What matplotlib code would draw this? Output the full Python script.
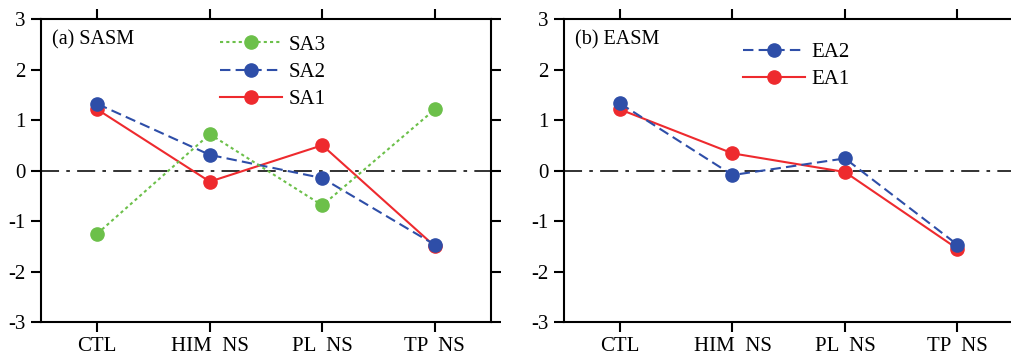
import numpy as np
import matplotlib.pyplot as plt

plt.rcParams['font.family'] = ['Liberation Serif', 'DejaVu Serif']
plt.rcParams['axes.unicode_minus'] = False

cats = ['CTL', 'HIM  NS', 'PL  NS', 'TP  NS']

# (a) SASM
sa1 = [1.21, -0.22, 0.50, -1.50]
sa2 = [1.32, 0.31, -0.15, -1.47]
sa3 = [-1.25, 0.72, -0.69, 1.21]

# (b) EASM
ea1 = [1.21, 0.34, -0.03, -1.55]
ea2 = [1.33, -0.09, 0.24, -1.47]

red = '#ee2a2e'
blue = '#2e4ea8'
green = '#6cc04a'

fig = plt.figure(figsize=(10.11, 3.56), dpi=100)
ax1 = fig.add_axes([0.0406, 0.0955, 0.4451, 0.851])
ax2 = fig.add_axes([0.5576, 0.0955, 0.4451, 0.851])

x = np.arange(len(cats))
ms = 9.5

l1, = ax1.plot(x, sa1, '-', color=red, lw=1.5, marker='o', ms=ms, label='SA1')
l2, = ax1.plot(x, sa2, '--', color=blue, lw=1.5, marker='o', ms=ms, label='SA2', dashes=(5, 2.5))
l3, = ax1.plot(x, sa3, ':', color=green, lw=1.5, marker='o', ms=ms, label='SA3', dashes=(1.5, 1.5))
ax1.legend(handles=[l3, l2, l1], loc='upper left', bbox_to_anchor=(0.365, 0.995),
           frameon=False, fontsize=15, handlelength=3.0, handletextpad=0.3,
           labelspacing=0.36, borderaxespad=0.3)
ax1.text(0.025, 0.93, '(a) SASM', transform=ax1.transAxes, fontsize=14.5,
         ha='left', va='center')

k1, = ax2.plot(x, ea1, '-', color=red, lw=1.5, marker='o', ms=ms, label='EA1')
k2, = ax2.plot(x, ea2, '--', color=blue, lw=1.5, marker='o', ms=ms, label='EA2', dashes=(5, 2.5))
ax2.legend(handles=[k2, k1], loc='upper left', bbox_to_anchor=(0.365, 0.97),
           frameon=False, fontsize=15, handlelength=3.0, handletextpad=0.3,
           labelspacing=0.36, borderaxespad=0.3)
ax2.text(0.025, 0.93, '(b) EASM', transform=ax2.transAxes, fontsize=14.5,
         ha='left', va='center')

for ax in (ax1, ax2):
    ax.axhline(0, color='#222222', lw=1.3, ls=(0, (10, 4, 2, 4)), zorder=0)
    ax.set_xlim(-0.5, 3.5)
    ax.set_ylim(-3, 3)
    ax.set_xticks(x)
    ax.set_xticklabels(cats)
    ax.set_yticks(range(-3, 4))
    ax.tick_params(direction='out', length=7, width=1.5, labelsize=15,
                   top=True, right=True, pad=4)
    for s in ax.spines.values():
        s.set_linewidth(1.5)

fig.savefig('out.png', dpi=100)
